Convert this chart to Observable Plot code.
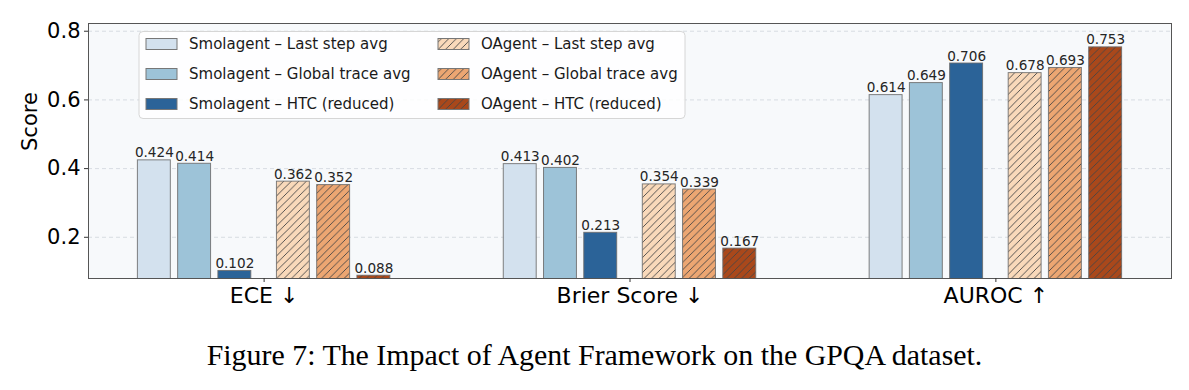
<!DOCTYPE html>
<html><head><meta charset="utf-8">
<script src="https://cdn.jsdelivr.net/npm/d3@7"></script>
<script src="https://cdn.jsdelivr.net/npm/@observablehq/plot@0.6"></script>
<style>
body{margin:0;background:#fff;}
#chart svg{display:block;}
#caption{font-family:"Liberation Serif","Times New Roman",serif;font-size:29.9px;line-height:34px;text-align:center;margin-top:18px;color:#000;width:1189px;}
</style></head><body>
<div id="chart"></div>
<div id="caption">Figure 7: The Impact of Agent Framework on the GPQA dataset.</div>
<script>
// ---- data ----
const metrics = ["ECE ↓", "Brier Score ↓", "AUROC ↑"];
const seriesNames = [
  "Smolagent – Last step avg", "Smolagent – Global trace avg", "Smolagent – HTC (reduced)",
  "OAgent – Last step avg", "OAgent – Global trace avg", "OAgent – HTC (reduced)"
];
const smolLast   = [0.424, 0.413, 0.614];
const smolGlobal = [0.414, 0.402, 0.649];
const smolHTC    = [0.102, 0.213, 0.706];
const oLast      = [0.362, 0.354, 0.678];
const oGlobal    = [0.352, 0.339, 0.693];
const oHTC       = [0.088, 0.167, 0.753];
const yTicks = [0.2, 0.4, 0.6, 0.8];
const seriesColors = ["#d3e1ee", "#9dc3d8", "#2b6398", "#f9d9ba", "#eca672", "#a9481b"];

// ---- build table ----
const seriesValues = [smolLast, smolGlobal, smolHTC, oLast, oGlobal, oHTC];
const barW = 0.09, step = 0.11, inner = 0.08;
const rows = [];
seriesValues.forEach((vals, s) => {
  const agent = s < 3 ? 0 : 1, j = s % 3;
  const off = agent === 0 ? -(inner + (2 - j) * step) : (inner + j * step);
  vals.forEach((v, g) => {
    rows.push({metric: metrics[g], series: seriesNames[s], s, g, value: v,
      xc: g + off, x1: g + off - barW / 2, x2: g + off + barW / 2, hatched: agent === 1});
  });
});

const chart = Plot.plot({
  width: 1189, height: 320,
  marginLeft: 88, marginRight: 18, marginTop: 23, marginBottom: 42,
  style: {fontFamily: "DejaVu Sans", fontSize: "13px", color: "#000", background: "transparent"},
  x: {domain: [-0.48, 2.48], axis: null},
  y: {domain: [0.08, 0.8225], axis: null},
  marks: [
    Plot.frame({fill: "#f7f9fb", stroke: null}),
    Plot.gridY(yTicks, {stroke: "#c5ccd5", strokeOpacity: 0.8, strokeDasharray: "4,3", strokeWidth: 0.8}),
    Plot.rectY(rows, {x1: "x1", x2: "x2", y: "value", fill: d => seriesColors[d.s], clip: true}),
    Plot.rectY(rows.filter(d => d.hatched), {x1: "x1", x2: "x2", y: "value", fill: "url(#hatch)", clip: true}),
    Plot.rectY(rows, {x1: "x1", x2: "x2", y: "value", fill: "none", stroke: "#6b6b6b", strokeOpacity: 0.85, strokeWidth: 1, clip: true}),
    Plot.text(rows, {x: "xc", y: "value", text: d => d.value.toFixed(3), lineAnchor: "bottom", dy: -3, fontSize: 13.6, fill: "#262626"}),
    Plot.frame({stroke: "#555", strokeWidth: 1}),
    Plot.axisY(yTicks, {tickSize: 4, tickPadding: 4, fontSize: 21, tickFormat: d => d.toFixed(1), label: null, stroke: "#333"}),
    Plot.axisX([0, 1, 2], {tickSize: 4, tickPadding: 5, fontSize: 22, tickFormat: i => metrics[i], label: null, stroke: "#333"}),
    Plot.text(["Score"], {frameAnchor: "left", text: d => d, rotate: -90, dx: -58, fontSize: 21, fill: "#000"})
  ]
});

const svg = d3.select(chart);
const defs = svg.insert("defs", ":first-child");
const pat = defs.append("pattern").attr("id", "hatch").attr("patternUnits", "userSpaceOnUse")
  .attr("width", 7.5).attr("height", 7.5);
pat.append("path").attr("d", "M-1,1 l2,-2 M0,7.5 l7.5,-7.5 M6.5,8.5 l2,-2")
  .attr("stroke", "#454545").attr("stroke-width", 0.9).attr("fill", "none");

// legend (inside plot area)
const lg = svg.append("g").attr("font-family", "DejaVu Sans").attr("font-size", 15).attr("text-anchor", "start");
lg.append("rect").attr("x", 139).attr("y", 31.5).attr("width", 546).attr("height", 87).attr("rx", 4)
  .attr("fill", "#fff").attr("fill-opacity", 0.85).attr("stroke", "#d6d6d6");
seriesNames.forEach((name, s) => {
  const col = s < 3 ? 0 : 1, r = s % 3;
  const sx = col === 0 ? 146 : 438, tx = col === 0 ? 189 : 481, cy = 44 + r * 30;
  lg.append("rect").attr("x", sx).attr("y", cy - 5.5).attr("width", 31).attr("height", 11)
    .attr("fill", seriesColors[s]);
  if (s >= 3) lg.append("rect").attr("x", sx).attr("y", cy - 5.5).attr("width", 31).attr("height", 11)
    .attr("fill", "url(#hatch)");
  lg.append("rect").attr("x", sx).attr("y", cy - 5.5).attr("width", 31).attr("height", 11)
    .attr("fill", "none").attr("stroke", "#777");
  lg.append("text").attr("x", tx).attr("y", cy).attr("dy", "0.35em").attr("text-anchor", "start")
    .attr("fill", "#1a1a1a").text(name);
});

document.getElementById("chart").appendChild(chart);
</script>
</body></html>
